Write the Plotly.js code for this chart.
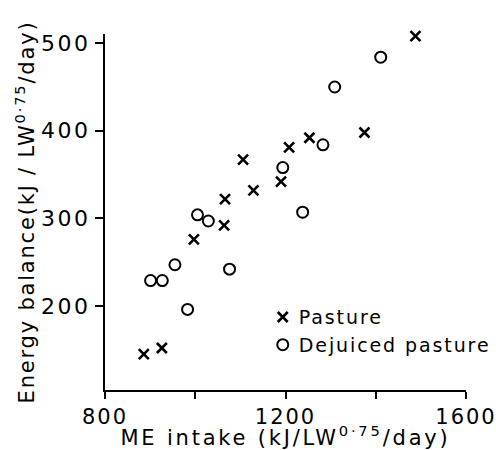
<!DOCTYPE html>
<html><head><meta charset="utf-8">
<script src="https://cdn.plot.ly/plotly-3.0.1.min.js"></script>
<style>
html,body{margin:0;padding:0;background:#fff}#c{width:496px;height:450px}
#c .xtick text{letter-spacing:2px}
#c .ytick text{letter-spacing:2.5px}
#c .xtitle{letter-spacing:2.8px}
#c .ytitle{letter-spacing:1.8px}
#c .legendtext{letter-spacing:1.9px;transform:translateX(-4px)}
#c .legend [clip-path]{clip-path:none !important}
</style>
</head><body><div id="c"></div>
<script>
// Pasture (x markers)
const pastureME = [886, 926, 997, 1064, 1066, 1106, 1129, 1190, 1208, 1253, 1375, 1488];
const pastureEB = [145, 152, 276, 292, 322, 367, 332, 342, 381, 392, 398, 508];
// Dejuiced pasture (o markers)
const dejuicedME = [901, 927, 955, 983, 1005, 1029, 1076, 1194, 1238, 1283, 1309, 1411];
const dejuicedEB = [229, 229, 247, 196, 304, 297, 242, 358, 307, 384, 450, 484];
const seriesNames = ["Pasture", "Dejuiced pasture"];
const xTicks = [800, 1000, 1200, 1400, 1600];
const xTickText = ["800", "", "1200", "", "1600"];
const yTicks = [200, 300, 400, 500];
const yTickText = ["200", "300", "400", "500"];

const FONT = "DejaVu Sans, sans-serif";
const traces = [
  {x: pastureME, y: pastureEB, name: seriesNames[0], type: "scatter", mode: "markers", cliponaxis: false,
   marker: {symbol: "x-thin-open", size: 10, color: "#000", line: {width: 2.6, color: "#000"}}},
  {x: dejuicedME, y: dejuicedEB, name: seriesNames[1], type: "scatter", mode: "markers", cliponaxis: false,
   marker: {symbol: "circle-open", size: 11, color: "#000", line: {width: 2, color: "#000"}}}
];
const layout = {
  width: 496, height: 450,
  margin: {l: 104.5, r: 30, t: 34, b: 60},
  paper_bgcolor: "#fff", plot_bgcolor: "#fff",
  font: {family: FONT, color: "#000", size: 20},
  showlegend: true,
  legend: {x: 0.437, y: 0.258, xanchor: "left", yanchor: "top", bgcolor: "rgba(0,0,0,0)",
           font: {size: 19, family: FONT}, itemwidth: 30, tracegroupgap: 0},
  xaxis: {range: [800, 1600], tickvals: xTicks, ticktext: xTickText, ticks: "outside", ticklen: 7,
          tickwidth: 2, tickcolor: "#000", showline: true, linewidth: 2, linecolor: "#000",
          showgrid: false, zeroline: false, tickfont: {size: 21},
          title: {text: "ME intake (kJ/LW<sup>0·75</sup>/day)", font: {size: 21}, standoff: 4}},
  yaxis: {range: [104, 510.5], tickvals: yTicks, ticktext: yTickText, ticks: "outside", ticklen: 8,
          tickwidth: 2, tickcolor: "#000", showline: true, linewidth: 2, linecolor: "#000",
          showgrid: false, zeroline: false, tickfont: {size: 22},
          title: {text: "Energy balance(kJ / LW<sup>0·75</sup>/day)", font: {size: 21}, standoff: 8}}
};
Plotly.newPlot("c", traces, layout, {displayModeBar: false, staticPlot: true});
</script></body></html>
